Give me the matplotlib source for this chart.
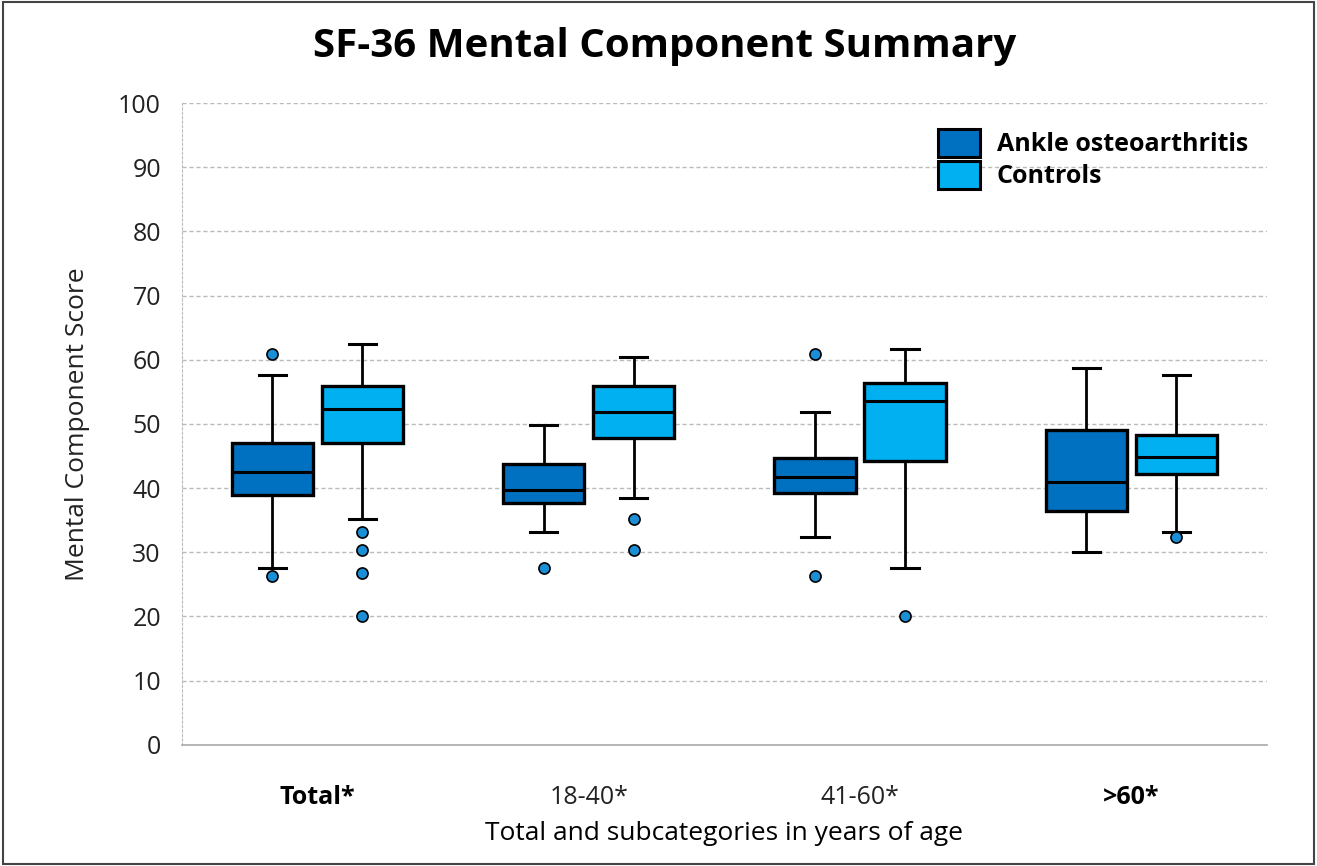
import matplotlib
matplotlib.use("Agg")
import matplotlib.pyplot as plt
from matplotlib.patches import Patch, Rectangle

plt.rcParams['font.family'] = ['Open Sans', 'DejaVu Sans']

categories = ["Total*", "18-40*", "41-60*", ">60*"]
label_bold = [True, False, False, True]
series = ["Ankle osteoarthritis", "Controls"]
colors = ["#0070C0", "#00B0F0"]

# per-category stats: whislo, q1, median, q3, whishi
ao_whislo = [27.6, 33.2, 32.4, 30.1]
ao_q1 = [38.9, 37.7, 39.3, 36.4]
ao_med = [42.5, 39.7, 41.7, 41.0]
ao_q3 = [47.0, 43.8, 44.7, 49.1]
ao_whishi = [57.6, 49.8, 51.9, 58.7]
ao_fliers = [[60.9, 26.3], [27.6], [60.9, 26.3], []]

c_whislo = [35.2, 38.5, 27.6, 33.2]
c_q1 = [47.0, 47.8, 44.2, 42.2]
c_med = [52.3, 51.9, 53.6, 44.9]
c_q3 = [55.9, 55.9, 56.4, 48.3]
c_whishi = [62.5, 60.4, 61.7, 57.6]
c_fliers = [[33.2, 30.4, 26.8, 20.1], [35.2, 30.4], [20.1], [32.4]]

yticks = list(range(0, 101, 10))

fig = plt.figure(figsize=(13.17, 8.66), dpi=100)
ax = fig.add_axes([0.138, 0.140, 0.824, 0.741])

def stats(lo, q1, med, q3, hi, fl):
    return [dict(whislo=a, q1=b, med=c, q3=d, whishi=e, fliers=f)
            for a, b, c, d, e, f in zip(lo, q1, med, q3, hi, fl)]

groups = [stats(ao_whislo, ao_q1, ao_med, ao_q3, ao_whishi, ao_fliers),
          stats(c_whislo, c_q1, c_med, c_q3, c_whishi, c_fliers)]
offsets = [-0.166, 0.166]
for g, off, col in zip(groups, offsets, colors):
    pos = [i + off for i in range(len(categories))]
    ax.bxp(g, positions=pos, widths=0.30, capwidths=0.10, patch_artist=True,
           boxprops=dict(facecolor=col, edgecolor='black', linewidth=2.4),
           medianprops=dict(color='black', linewidth=2.2),
           whiskerprops=dict(color='black', linewidth=2.0),
           capprops=dict(color='black', linewidth=2.2),
           flierprops=dict(marker='o', markerfacecolor='#1A8FD6',
                           markeredgecolor='black', markeredgewidth=1.2,
                           markersize=8, linestyle='none'),
           zorder=3)

ax.set_xlim(-0.5, 3.5)
ax.set_ylim(0, 100)
ax.set_yticks(yticks)
ax.set_yticklabels([str(t) for t in yticks], fontsize=18, color='#222222')
ax.yaxis.grid(True, linestyle=(0, (3, 2)), color='#BBBBBB', linewidth=1.0)
ax.set_axisbelow(True)
ax.tick_params(axis='y', length=0, pad=15)
ax.tick_params(axis='x', length=0, pad=29)
ax.set_xticks(range(len(categories)))
ax.set_xticklabels(categories, fontsize=18)
for lbl, b in zip(ax.get_xticklabels(), label_bold):
    lbl.set_fontweight('bold' if b else 'normal')
    if not b:
        lbl.set_color('#222222')

for s in ['top', 'right']:
    ax.spines[s].set_visible(False)
ax.spines['left'].set_linestyle((0, (2, 2)))
ax.spines['left'].set_color('#BBBBBB')
ax.spines['bottom'].set_color('#AAAAAA')
ax.spines['bottom'].set_linewidth(1.2)

ax.set_ylabel("Mental Component Score", fontsize=19, labelpad=20, color='#222222')
ax.set_xlabel("Total and subcategories in years of age", fontsize=19, labelpad=8)

fig.text(0.505, 0.946, "SF-36 Mental Component Summary", fontsize=29,
         fontweight='bold', ha='center', va='center')

handles = [Patch(facecolor=c, edgecolor='black', linewidth=2.2, label=s)
           for c, s in zip(colors, series)]
leg = ax.legend(handles=handles, loc='upper left', bbox_to_anchor=(0.676, 0.995),
                frameon=False, prop=dict(size=18, weight='bold'),
                handlelength=1.7, handleheight=1.35, labelspacing=0.15,
                handletextpad=0.65)

fig.add_artist(Rectangle((0.002, 0.002), 0.996, 0.996, transform=fig.transFigure,
                         fill=False, edgecolor='#444444', linewidth=1.5))

fig.savefig("out.png", dpi=100)
